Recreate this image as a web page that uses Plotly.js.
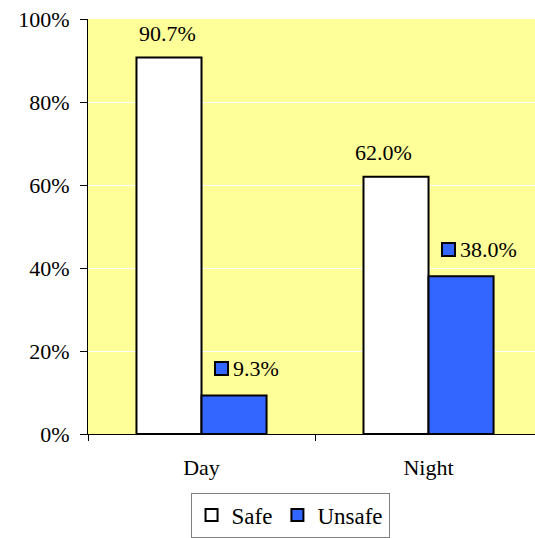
<!DOCTYPE html>
<html>
<head>
<meta charset="utf-8">
<script src="https://cdn.plot.ly/plotly-3.0.1.min.js"></script>
<style>html,body{margin:0;padding:0;overflow:hidden;background:#fff;}</style>
</head>
<body>
<div id="chart" style="width:535px;height:538px;"></div>
<script>
const categories = ["Day", "Night"];
const safeValues = [90.7, 62.0];
const unsafeValues = [9.3, 38.0];
const yTickVals = [0, 20, 40, 60, 80, 100];
const yTickText = ["0%", "20%", "40%", "60%", "80%", "100%"];

const FONT = "Liberation Serif";
const BLUE = "#3366FF";

const traces = [
  {type: "bar", name: "Safe", x: categories, y: safeValues,
   marker: {color: "#FFFFFF", line: {color: "#000000", width: 2}}, hoverinfo: "skip"},
  {type: "bar", name: "Unsafe", x: categories, y: unsafeValues,
   marker: {color: BLUE, line: {color: "#000000", width: 2}}, hoverinfo: "skip"}
];

const safeShift = [-34, -45];
const annotations = [];
categories.forEach((c, i) => {
  annotations.push({xref: "x", yref: "y", x: c, y: safeValues[i], text: safeValues[i].toFixed(1) + "%",
    showarrow: false, xanchor: "center", yanchor: "bottom", xshift: safeShift[i], yshift: 10,
    font: {family: FONT, size: 22, color: "#000"}});
  annotations.push({xref: "x", yref: "y", x: c, y: unsafeValues[i], text: " ",
    showarrow: false, xanchor: "center", yanchor: "middle", xshift: 19.7, yshift: 27,
    width: 11, height: 11, bgcolor: BLUE, bordercolor: "#000", borderwidth: 2, borderpad: 0,
    font: {family: FONT, size: 2, color: BLUE}});
  annotations.push({xref: "x", yref: "y", x: c, y: unsafeValues[i], text: unsafeValues[i].toFixed(1) + "%",
    showarrow: false, xanchor: "left", yanchor: "middle", xshift: 29, yshift: 27,
    font: {family: FONT, size: 22, color: "#000"}});
});

const layout = {
  width: 535, height: 538,
  margin: {l: 88, r: 0, t: 19, b: 100},
  paper_bgcolor: "#FFFFFF",
  plot_bgcolor: "#FFFF99",
  barmode: "group",
  bargap: 0.427,
  bargroupgap: 0,
  font: {family: FONT, size: 22, color: "#000"},
  showlegend: true,
  legend: {orientation: "h", x: 0.452, xanchor: "center", y: -0.141, yanchor: "top",
    bordercolor: "#808080", borderwidth: 1, bgcolor: "#FFFFFF",
    font: {family: FONT, size: 23, color: "#000"}, itemwidth: 30, traceorder: "normal"},
  xaxis: {type: "category", range: [-0.5, 1.469], showgrid: false, showline: true,
    linecolor: "#000", linewidth: 1, ticks: "outside", tickson: "boundaries", ticklen: 6,
    tickcolor: "#000", zeroline: false, fixedrange: true, ticklabelstandoff: 14,
    tickfont: {family: FONT, size: 22, color: "#000"}},
  yaxis: {range: [0, 100], tickvals: yTickVals, ticktext: yTickText, showgrid: true,
    gridcolor: "#FFFFFF", gridwidth: 1, showline: true, linecolor: "#000", linewidth: 1,
    ticks: "outside", ticklen: 7, tickcolor: "#000", zeroline: false, fixedrange: true,
    ticklabelstandoff: 6,
    tickfont: {family: FONT, size: 22, color: "#000"}},
  annotations: annotations
};

Plotly.newPlot("chart", traces, layout, {staticPlot: true, displayModeBar: false});
</script>
</body>
</html>
